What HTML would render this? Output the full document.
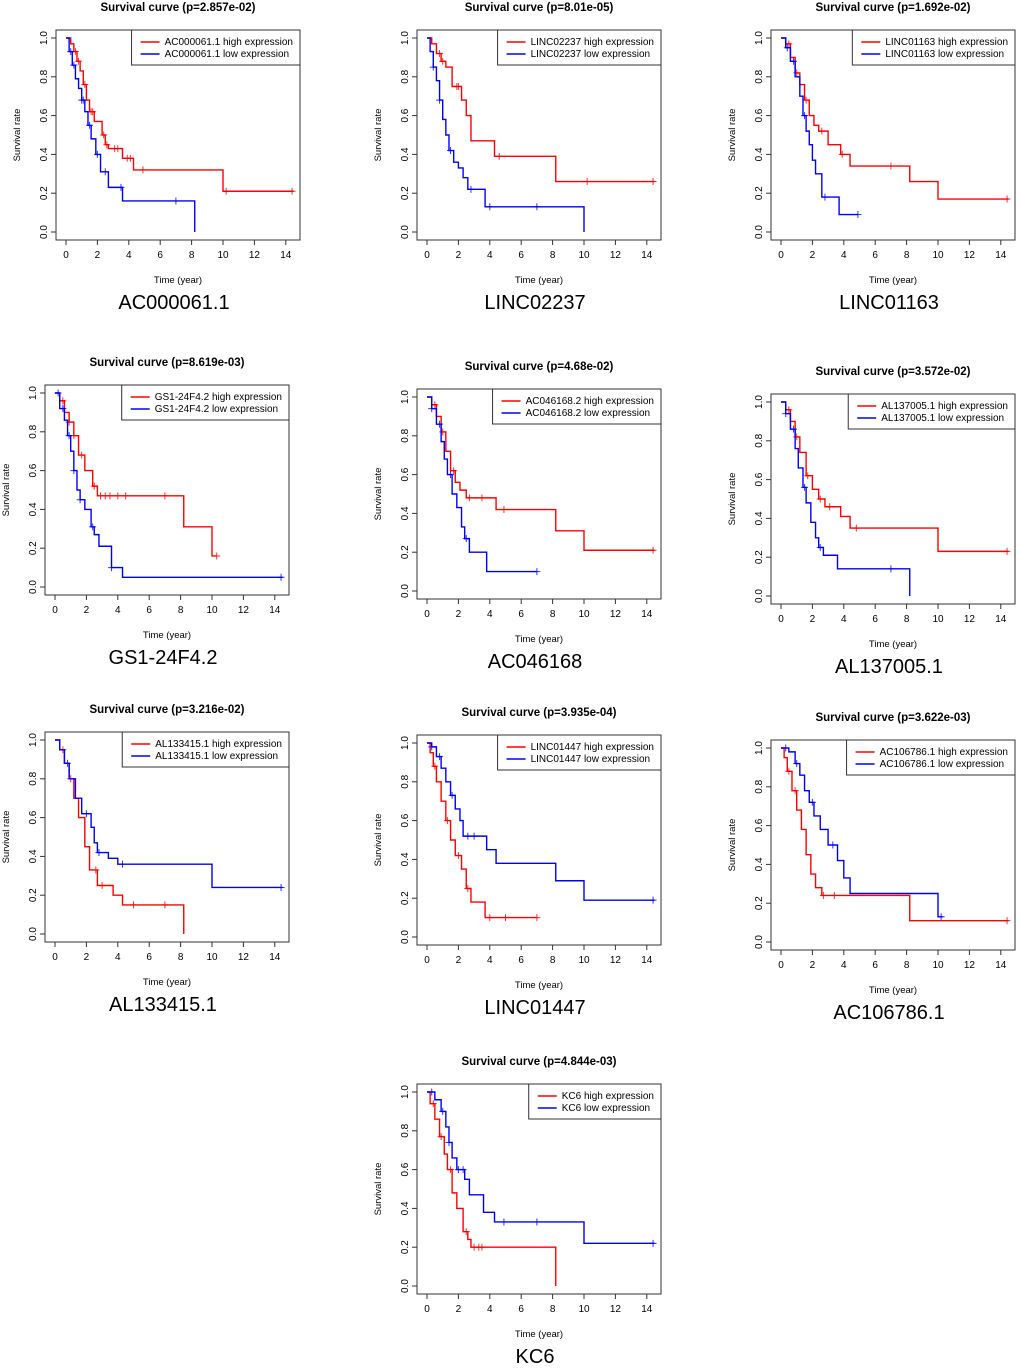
<!DOCTYPE html>
<html><head><meta charset="utf-8"><style>
body{margin:0;background:#fff;}
svg{display:block;font-family:"Liberation Sans",Arial,sans-serif;}
</style></head><body>
<svg id="c" width="1020" height="1370" viewBox="0 0 1020 1370" xmlns="http://www.w3.org/2000/svg"></svg>
<script>
// Panel meta
const genes=["AC000061.1","LINC02237","LINC01163","GS1-24F4.2","AC046168","AL137005.1","AL133415.1","LINC01447","AC106786.1","KC6"];
const legendNames=["AC000061.1","LINC02237","LINC01163","GS1-24F4.2","AC046168.2","AL137005.1","AL133415.1","LINC01447","AC106786.1","KC6"];
const pvals=["2.857e-02","8.01e-05","1.692e-02","8.619e-03","4.68e-02","3.572e-02","3.216e-02","3.935e-04","3.622e-03","4.844e-03"];
const xTicks=[0,2,4,6,8,10,12,14];
const yTicks=[0,0.2,0.4,0.6,0.8,1.0];
const yTickLabels=["0.0","0.2","0.4","0.6","0.8","1.0"];
// High expression (red) step curves: times and survival after each drop
const highT=[
[0.3,0.5,0.7,0.9,1.1,1.3,1.5,1.8,2.3,2.5,2.7,3.6,4.3,10],
[0.3,0.6,0.9,1.2,1.6,2.2,2.5,2.8,4.3,8.2],
[0.3,0.6,0.9,1.2,1.5,1.8,2.1,2.4,3.0,3.8,4.4,8.2,10],
[0.3,0.6,0.9,1.2,1.5,1.9,2.4,2.7,8.2,10],
[0.3,0.6,0.9,1.2,1.5,1.8,2.1,2.5,4.4,8.2,10],
[0.3,0.6,0.9,1.2,1.6,2.0,2.4,2.8,3.8,4.4,10],
[0.3,0.6,0.9,1.2,1.5,1.9,2.2,2.7,3.7,4.3,8.2],
[0.2,0.4,0.6,0.9,1.2,1.5,1.8,2.2,2.5,2.8,3.7],
[0.2,0.4,0.7,1.0,1.3,1.6,1.9,2.2,2.6,8.2],
[0.2,0.5,0.8,1.1,1.3,1.6,1.9,2.3,2.6,2.8,8.2]];
const highS=[
[0.97,0.93,0.88,0.83,0.76,0.68,0.62,0.57,0.5,0.45,0.43,0.38,0.32,0.21],
[0.97,0.92,0.88,0.85,0.75,0.68,0.6,0.47,0.39,0.26],
[0.97,0.9,0.82,0.76,0.68,0.6,0.55,0.52,0.45,0.4,0.34,0.26,0.17],
[0.96,0.9,0.85,0.78,0.68,0.6,0.52,0.47,0.31,0.16],
[0.96,0.9,0.82,0.72,0.62,0.56,0.52,0.48,0.42,0.31,0.21],
[0.96,0.9,0.82,0.74,0.62,0.55,0.5,0.46,0.41,0.35,0.23],
[0.95,0.88,0.8,0.7,0.6,0.45,0.33,0.25,0.2,0.15,0],
[0.95,0.88,0.8,0.7,0.6,0.5,0.42,0.35,0.25,0.18,0.1],
[0.95,0.88,0.78,0.68,0.58,0.45,0.35,0.28,0.24,0.11],
[0.94,0.86,0.77,0.68,0.6,0.48,0.4,0.28,0.24,0.2,0]];
const highEnd=[14.5,14.5,14.5,10.3,14.5,14.5,8.2,7.0,14.5,8.2];
const highCens=[[0.6,0.8,1.2,1.6,1.7,2.4,2.6,3.1,3.3,3.9,4.1,4.9,10.2,14.4],[0.8,1.0,1.9,2.0,4.6,10.2,14.4],[0.5,1.0,1.6,2.6,3.9,7.0,14.4],[0.5,0.9,1.2,1.7,2.5,2.9,3.2,3.5,4.0,4.5,7.0,10.3],[0.5,1.0,1.7,2.7,3.5,4.9,14.4],[0.5,1.0,1.7,2.5,3.1,4.8,14.4],[0.5,1.0,2.6,3.0,5.0,7.0],[0.5,1.3,2.0,2.6,4.0,5.0,7.0],[0.5,0.9,2.7,3.4,14.4],[0.4,0.9,1.5,2.5,3.0,3.3,3.5]];
// Low expression (blue)
const lowT=[
[0.2,0.4,0.6,0.8,1.0,1.2,1.4,1.6,1.9,2.2,2.3,2.7,3.6,8.2],
[0.2,0.4,0.6,0.8,1.0,1.2,1.4,1.7,2.0,2.3,2.6,3.7,10],
[0.3,0.6,0.9,1.2,1.4,1.6,1.8,2.0,2.2,2.6,3.7],
[0.3,0.6,0.8,1.0,1.2,1.4,1.6,1.9,2.3,2.5,2.8,3.6,4.3],
[0.3,0.6,0.9,1.1,1.3,1.6,1.9,2.2,2.4,2.7,3.8],
[0.3,0.6,0.9,1.1,1.4,1.6,1.9,2.2,2.4,2.7,3.6,8.2],
[0.3,0.6,0.9,1.3,1.7,2.3,2.5,2.7,3.4,4.0,10],
[0.3,0.6,0.9,1.2,1.5,1.8,2.1,2.3,3.8,4.4,8.2,10],
[0.5,0.9,1.2,1.5,1.8,2.1,2.5,3.0,3.6,4.0,4.4,10],
[0.5,0.9,1.2,1.4,1.6,1.9,2.4,2.7,3.6,4.3,10]];
const lowS=[
[0.93,0.86,0.79,0.74,0.68,0.62,0.55,0.48,0.4,0.31,0.31,0.23,0.16,0],
[0.93,0.85,0.78,0.68,0.58,0.5,0.42,0.36,0.33,0.28,0.22,0.13,0],
[0.95,0.88,0.8,0.7,0.6,0.52,0.45,0.37,0.3,0.18,0.09],
[0.92,0.86,0.78,0.7,0.6,0.5,0.45,0.4,0.31,0.27,0.21,0.1,0.05],
[0.94,0.86,0.77,0.68,0.6,0.5,0.43,0.33,0.27,0.2,0.1],
[0.94,0.86,0.76,0.66,0.56,0.48,0.38,0.3,0.25,0.21,0.14,0],
[0.95,0.88,0.8,0.7,0.62,0.55,0.47,0.42,0.39,0.36,0.24],
[0.98,0.93,0.87,0.8,0.73,0.66,0.6,0.52,0.45,0.38,0.29,0.19],
[0.98,0.92,0.86,0.78,0.72,0.65,0.58,0.5,0.42,0.33,0.25,0.13],
[0.96,0.9,0.82,0.74,0.66,0.6,0.55,0.47,0.38,0.33,0.22]];
const lowEnd=[8.2,10,4.9,14.5,7.0,8.2,14.5,14.5,10.3,14.5];
const lowCens=[[0.3,0.5,1.0,1.1,1.5,2.0,2.5,3.5,7.0],[0.4,0.8,1.5,2.8,4.0,7.0],[0.4,0.8,1.5,2.8,4.9],[0.2,0.5,0.9,1.2,1.6,2.4,3.6,14.4],[0.3,0.8,1.5,2.5,7.0],[0.3,0.8,1.5,2.5,7.0],[0.8,2.0,2.8,4.3,14.4],[0.3,0.8,1.6,2.6,3.0,14.4],[0.3,1.0,2.0,3.3,10.2],[0.3,1.0,1.4,2.0,2.3,4.9,7.0,14.4]];
// Layout per panel: pixel of time 0, pixel of survival 1.0
const origins=[[66,38],[427,38],[781,38],[55,393],[427,397],[781,402],[55,740],[427,743],[781,748],[427,1092]];

const NS="http://www.w3.org/2000/svg";
const svg=document.getElementById('c');
function mk(tag,attrs,parent){const e=document.createElementNS(NS,tag);for(const k in attrs)e.setAttribute(k,attrs[k]);(parent||svg).appendChild(e);return e;}
const XS=15.7, YS=194;

genes.forEach((g,i)=>{
  const [x0,yT]=origins[i];
  const X=t=>x0+t*XS, Y=s=>yT+(1-s)*YS;
  const grp=mk('g',{});
  
  
  const L=x0-10,R=x0+234,T=yT-8,B=yT+YS+8;
  const box=mk('rect',{x:L,y:T,width:R-L,height:B-T,fill:'none',stroke:'#333','stroke-width':1},grp);
  
  
  const title=mk('text',{x:(L+R)/2,y:yT-27,'text-anchor':'middle','font-size':11.5,'font-weight':'bold',fill:'#000'},grp);
  title.textContent='Survival curve (p='+pvals[i]+')';
  
  
  xTicks.forEach(t=>{
    mk('line',{x1:X(t),x2:X(t),y1:B,y2:B+5,stroke:'#333'},grp);
    const tx=mk('text',{x:X(t),y:B+18,'text-anchor':'middle','font-size':10,fill:'#000'},grp);
    tx.textContent=t;
    
    
  });
  yTicks.forEach((s,k)=>{
    mk('line',{x1:L,x2:L-5,y1:Y(s),y2:Y(s),stroke:'#333'},grp);
    const tx=mk('text',{x:0,y:0,'text-anchor':'middle','font-size':10,fill:'#000',transform:`translate(${L-9},${Y(s)}) rotate(-90)`},grp);
    tx.textContent=yTickLabels[k];
    
    
  });
  const xl=mk('text',{x:(L+R)/2,y:yT+YS+51,'text-anchor':'middle','font-size':9.5,fill:'#000'},grp);
  xl.textContent='Time (year)';
  
  
  const yl=mk('text',{x:0,y:0,'text-anchor':'middle','font-size':9.5,fill:'#000',transform:`translate(${x0-46},${Y(0.5)}) rotate(-90)`},grp);
  yl.textContent='Survival rate';
  
  
  const gl=mk('text',{x:(L+R)/2-4,y:yT+YS+77,'text-anchor':'middle','font-size':20,fill:'#000'},grp);
  gl.textContent=g;
  
  
  function curve(ts,ss,end,cens,color,nm){
    let d=`M${X(0)},${Y(1)}`;
    ts.forEach((t,k)=>{d+=` H${X(t)} V${Y(ss[k])}`;});
    d+=` H${X(end)}`;
    const p=mk('path',{d:d,fill:'none',stroke:color,'stroke-width':1.4},grp);
    
    
    cens.forEach(c=>{
      let s=1;ts.forEach((t,k)=>{if(t<=c)s=ss[k];});
      const m=mk('path',{d:`M${X(c)-3.5},${Y(s)} h7 M${X(c)},${Y(s)-3.5} v7`,stroke:color,'stroke-width':1,opacity:0.8},grp);
      
      
    });
  }
  curve(highT[i],highS[i],highEnd[i],highCens[i],'#f00','high-expression');
  curve(lowT[i],lowS[i],lowEnd[i],lowCens[i],'#00f','low-expression');
  // legend
  const lg=mk('g',{},grp);
  
  
  const t1=mk('text',{x:0,y:T+15,'font-size':10,fill:'#000'},lg);
  t1.textContent=legendNames[i]+' high expression';
  
  
  const t2=mk('text',{x:0,y:T+27,'font-size':10,fill:'#000'},lg);
  t2.textContent=legendNames[i]+' low expression';
  
  
  const w=Math.max(t1.getComputedTextLength(),t2.getComputedTextLength());
  const lw=w+40, lx=R-lw;
  t1.setAttribute('x',lx+33);t2.setAttribute('x',lx+33);
  const r=mk('rect',{x:lx,y:T,width:lw,height:35,fill:'#fff',stroke:'#333'},lg);
  lg.insertBefore(r,t1);
  mk('line',{x1:lx+9,x2:lx+28,y1:T+12,y2:T+12,stroke:'#f00','stroke-width':1.4},lg);
  mk('line',{x1:lx+9,x2:lx+28,y1:T+24,y2:T+24,stroke:'#00f','stroke-width':1.4},lg);
});
</script>
</body></html>
